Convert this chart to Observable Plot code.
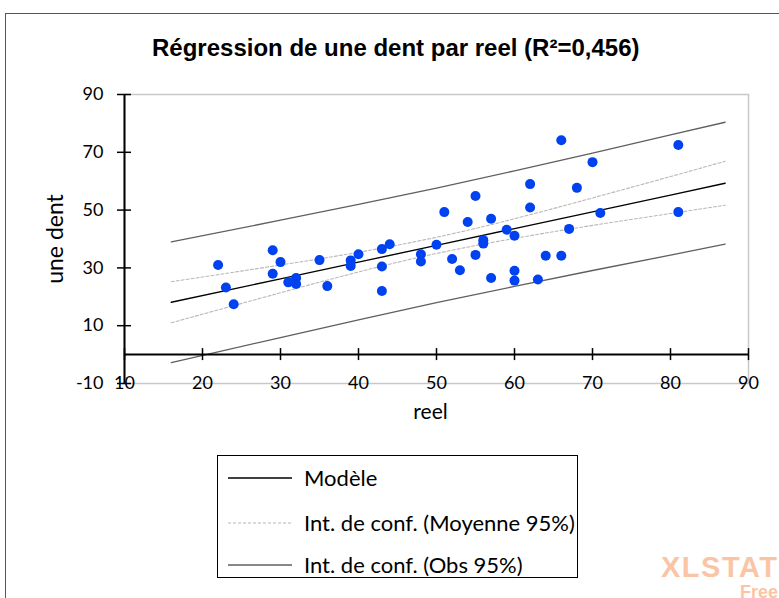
<!DOCTYPE html>
<html><head><meta charset="utf-8">
<script src="https://cdn.jsdelivr.net/npm/d3@7"></script>
<script src="https://cdn.jsdelivr.net/npm/@observablehq/plot@0.6"></script>
<style>
body{margin:0;background:#fff;}
#wrap{position:relative;width:779px;height:598px;overflow:hidden;background:#fff;}
#frame{position:absolute;left:5px;top:13px;width:820px;height:640px;border:1.5px solid #555;box-sizing:border-box;}
#title{position:absolute;left:152px;top:34px;font:bold 24px "Liberation Sans",Arial,sans-serif;color:#000;white-space:nowrap;line-height:28px;}
#chart{position:absolute;left:0;top:0;}
#legend{position:absolute;left:217px;top:455px;width:361px;height:123px;border:1px solid #000;box-sizing:border-box;background:#fff;}
.row{position:absolute;left:0;height:26px;font:22px Lato,sans-serif;color:#000;white-space:nowrap;}
.row svg{position:absolute;left:10px;top:1px;}
.row span{position:absolute;left:86px;top:0;line-height:26px;}
#wm1{position:absolute;left:661px;top:553px;font:bold 29px "Liberation Sans",Arial,sans-serif;color:#fbc5a5;letter-spacing:1.5px;line-height:29px;}
#wm2{position:absolute;left:740px;top:583px;font:bold 18px "Liberation Sans",Arial,sans-serif;color:#fbc5a5;line-height:18px;}
</style></head>
<body>
<div id="wrap">
  <div id="frame"></div>
  <div id="title">Régression de une dent par reel (R²=0,456)</div>
  <div id="chart"></div>
  <div id="legend"></div>
  <div id="wm1">XLSTAT</div>
  <div id="wm2">Free</div>
</div>
<script>
// Observations (reel, une dent)
const reel = [22,23,24,29,29,30,31,32,32,35,36,39,39,40,43,43,43,44,48,48,50,51,52,53,54,55,55,56,56,57,57,59,60,60,60,62,62,63,64,66,66,67,68,70,71,81,81];
const uneDent = [31.0,23.2,17.4,36.1,28.0,32.0,25.0,26.5,24.4,32.7,23.7,32.6,30.7,34.7,36.5,30.5,22.0,38.2,34.7,32.2,38.0,49.3,33.1,29.2,45.9,54.9,34.5,39.6,38.4,47.0,26.5,43.2,41.1,29.0,25.6,59.0,50.9,26.0,34.2,74.2,34.2,43.5,57.7,66.6,49.0,72.5,49.3];

// Model and confidence bands read at these x positions
const fitX   = [16, 30, 40, 50, 60, 70, 80, 87];
const model  = [18.1, 26.2, 32.0, 37.8, 43.6, 49.4, 55.2, 59.3];
const meanUp = [25.2, 31.0, 35.4, 40.6, 47.0, 54.2, 61.6, 66.9];
const meanLo = [11.0, 21.4, 28.6, 35.0, 40.2, 44.7, 48.8, 51.7];
const obsUp  = [39.0, 46.5, 52.0, 57.6, 63.6, 69.7, 76.0, 80.4];
const obsLo  = [-2.8, 5.9, 12.0, 18.0, 23.6, 29.1, 34.4, 38.2];

// Ticks
const xTicks = [10, 20, 30, 40, 50, 60, 70, 80, 90];
const yTicks = [-10, 10, 30, 50, 70, 90];

// Legend labels
const legendLabels = ["Modèle", "Int. de conf. (Moyenne 95%)", "Int. de conf. (Obs 95%)"];

const pts = reel.map((x, i) => ({x, y: uneDent[i]}));
const curve = arr => fitX.map((x, i) => ({x, y: arr[i]}));

const plot = Plot.plot({
  width: 779,
  height: 440,
  marginLeft: 124,
  marginRight: 31,
  marginTop: 94,
  marginBottom: 57,
  style: {background: "transparent", overflow: "visible"},
  x: {domain: [10, 90], axis: null},
  y: {domain: [-10, 90], axis: null},
  marks: [
    Plot.frame({stroke: "#c8c8c8", strokeWidth: 1.5}),
    Plot.line(curve(obsUp), {x: "x", y: "y", stroke: "#5f5f5f", strokeWidth: 1.3}),
    Plot.line(curve(obsLo), {x: "x", y: "y", stroke: "#5f5f5f", strokeWidth: 1.3}),
    Plot.line(curve(meanUp), {x: "x", y: "y", stroke: "#b8b8b8", strokeWidth: 1.1, strokeDasharray: "3,2", curve: "natural"}),
    Plot.line(curve(meanLo), {x: "x", y: "y", stroke: "#b8b8b8", strokeWidth: 1.1, strokeDasharray: "3,2", curve: "natural"}),
    Plot.line(curve(model), {x: "x", y: "y", stroke: "#000", strokeWidth: 1.4}),
    Plot.dot(pts, {x: "x", y: "y", r: 5, fill: "#0041f0", stroke: "none"}),
    Plot.ruleY([0], {stroke: "#000", strokeWidth: 2}),
    Plot.ruleX([10], {stroke: "#000", strokeWidth: 2}),
    Plot.ruleX(xTicks, {x: d => d, y1: 0, y2: 0, insetTop: -6, insetBottom: -6, stroke: "#000", strokeWidth: 1.5}),
    Plot.ruleY(yTicks, {y: d => d, x1: 10, x2: 10, insetLeft: -7, insetRight: -7, stroke: "#000", strokeWidth: 1.5}),
    Plot.text(xTicks, {x: d => d, text: d => String(d), frameAnchor: "bottom", lineAnchor: "middle", fontSize: 18, fontFamily: "Lato, sans-serif", fill: "#000"}),
    Plot.text(yTicks, {y: d => d, text: d => String(d), frameAnchor: "left", textAnchor: "end", dx: -21, fontSize: 18, fontFamily: "Lato, sans-serif", fill: "#000"}),
    Plot.text(["reel"], {frameAnchor: "bottom", dx: -6, dy: 29, lineAnchor: "middle", textAnchor: "middle", fontSize: 21, fontFamily: "Lato, sans-serif", fill: "#000"}),
    Plot.text(["une dent"], {frameAnchor: "left", dx: -69, rotate: -90, lineAnchor: "middle", textAnchor: "middle", fontSize: 23, fontFamily: "Lato, sans-serif", fill: "#000"})
  ]
});
document.getElementById("chart").appendChild(plot);

// Legend
const styles = [
  {stroke: "#000", dash: null, w: 1.3},
  {stroke: "#b8b8b8", dash: "3,2", w: 1.1},
  {stroke: "#5f5f5f", dash: null, w: 1.3}
];
const rowTops = [9, 54, 96];
const legend = document.getElementById("legend");
legendLabels.forEach((lab, i) => {
  const row = document.createElement("div");
  row.className = "row";
  row.style.top = rowTops[i] + "px";
  const s = styles[i];
  row.innerHTML = `<svg width="64" height="24"><line x1="0" x2="64" y1="12" y2="12" stroke="${s.stroke}" stroke-width="${s.w}" ${s.dash ? `stroke-dasharray="${s.dash}"` : ""}/></svg><span>${lab}</span>`;
  legend.appendChild(row);
});
</script>
</body></html>
